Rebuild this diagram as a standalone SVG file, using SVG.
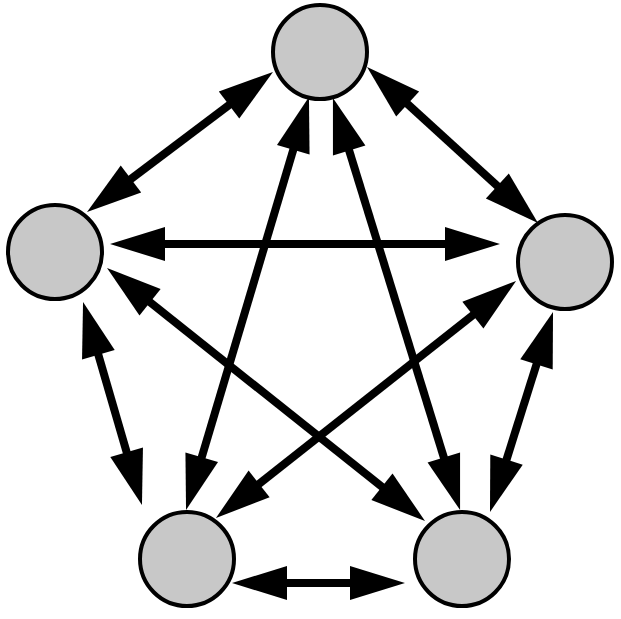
<svg xmlns="http://www.w3.org/2000/svg" width="621" height="619" viewBox="0 0 621 619">
<style>
.node{fill:#c8c8c8;stroke:#000;stroke-width:4}
.edge{stroke:#000;stroke-width:8;fill:none;marker-start:url(#ah);marker-end:url(#ah)}
</style>
<defs>
<marker id="ah" markerUnits="userSpaceOnUse" markerWidth="120" markerHeight="60" refX="0" refY="0" viewBox="-60 -30 120 60" orient="auto-start-reverse" overflow="visible">
<path d="M30,0 L-25,-17 L-25,17 Z" fill="#000"/>
</marker>
</defs>
<rect width="621" height="619" fill="#fff"/>
<g id="nodes">
<g id="n-top"><circle class="node" cx="320" cy="52" r="47"/></g>
<g id="n-left"><circle class="node" cx="55" cy="252" r="47"/></g>
<g id="n-right"><circle class="node" cx="565" cy="262" r="47"/></g>
<g id="n-bl"><circle class="node" cx="187" cy="559" r="47"/></g>
<g id="n-br"><circle class="node" cx="462" cy="559" r="47"/></g>
</g>
<g id="connectors">
<line class="edge" x1="249" y1="90" x2="111" y2="194"/>
<line class="edge" x1="389.2" y1="87.2" x2="515.8" y2="202.8"/>
<line class="edge" x1="140" y1="244" x2="470" y2="244"/>
<line class="edge" x1="91.4" y1="330.8" x2="133.6" y2="476.2"/>
<line class="edge" x1="544" y1="340.6" x2="499" y2="483.4"/>
<line class="edge" x1="262" y1="583" x2="375" y2="583"/>
<line class="edge" x1="300.4" y1="125.8" x2="194.6" y2="481.2"/>
<line class="edge" x1="341.8" y1="126.7" x2="451.2" y2="481.3"/>
<line class="edge" x1="130.5" y1="286.7" x2="401.5" y2="502.3"/>
<line class="edge" x1="492.5" y1="299.6" x2="239.5" y2="499.4"/>
</g>
</svg>
